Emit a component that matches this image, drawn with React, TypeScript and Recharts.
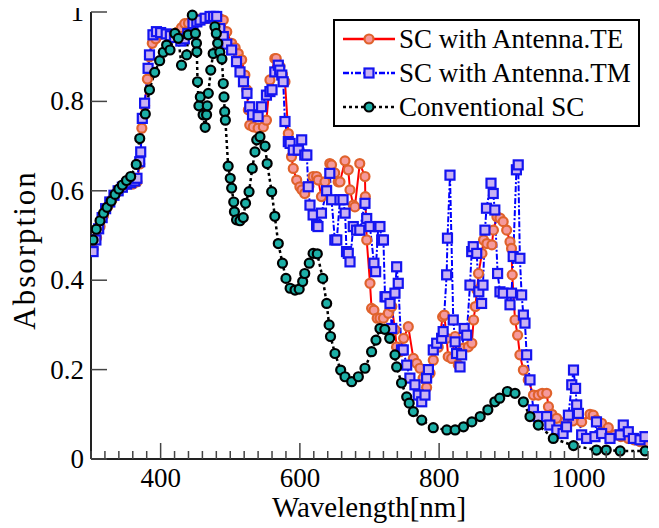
import { LineChart, Line, XAxis, YAxis, Legend } from 'recharts';

const FONT = "'Liberation Serif', Tinos, 'DejaVu Serif', serif";

// wavelength ticks (every 20 nm), labelled every 200 nm
const xTicks = [300, 320, 340, 360, 380, 400, 420, 440, 460, 480, 500, 520, 540, 560, 580, 600, 620, 640, 660, 680, 700,
  720, 740, 760, 780, 800, 820, 840, 860, 880, 900, 920, 940, 960, 980, 1000, 1020, 1040, 1060, 1080, 1100];
const xLabels = [400, 600, 800, 1000];
const yTicks = [0, 0.2, 0.4, 0.6, 0.8, 1];

// SC with Antenna.TE
const teWl = [303, 308, 313, 318, 324, 330, 336, 342, 348, 354, 360, 366, 370, 373, 377, 381, 384, 388, 393, 400, 408, 416,
  424, 430, 434.6, 440, 446, 452, 458, 465, 472, 480, 485, 490, 495, 502, 507, 511.5, 516.4, 521, 523.6, 526, 528, 533, 540,
  547.5, 552, 557, 564, 566, 571.4, 575, 578.6, 583.4, 588, 590.5, 595.4, 600, 603, 607, 613, 619, 624, 626.3, 631, 636, 643,
  645.5, 650, 655, 657.6, 664.8, 669.5, 672, 676.7, 679, 686, 693.5, 694, 696, 700.7, 703, 706.4, 711, 715, 720, 727, 732,
  736.6, 739, 743.8, 749, 755.7, 763, 767.8, 772.5, 777, 782, 787, 791.6, 798.8, 805, 807.5, 810.8, 813, 818, 823, 827.6, 835,
  842, 847, 849.5, 852, 854.4, 856.6, 861.5, 863.8, 868.6, 875.8, 878, 883, 887.4, 892, 897, 901.8, 904, 905, 909, 912.7, 916,
  921, 928, 935.5, 942.4, 948, 954.5, 957, 962, 968.8, 980.7, 992, 1004.7, 1016.7, 1021.4, 1026, 1033.4, 1043, 1052.5, 1061,
  1071.7, 1080, 1088.5, 1098];
const teAbs = [0.47, 0.495, 0.52, 0.545, 0.565, 0.58, 0.595, 0.605, 0.612, 0.615, 0.615, 0.62, 0.66, 0.74, 0.79, 0.85, 0.9,
  0.93, 0.94, 0.95, 0.95, 0.95, 0.955, 0.965, 0.974, 0.975, 0.98, 0.983, 0.985, 0.985, 0.988, 0.988, 0.985, 0.982, 0.956, 0.93,
  0.92, 0.907, 0.893, 0.859, 0.826, 0.781, 0.747, 0.743, 0.74, 0.743, 0.758, 0.848, 0.896, 0.896, 0.878, 0.86, 0.844, 0.728,
  0.676, 0.65, 0.624, 0.609, 0.602, 0.594, 0.61, 0.632, 0.632, 0.624, 0.587, 0.62, 0.661, 0.658, 0.64, 0.62, 0.62, 0.667,
  0.647, 0.602, 0.568, 0.564, 0.661, 0.632, 0.587, 0.49, 0.393, 0.337, 0.333, 0.315, 0.315, 0.315, 0.326, 0.341, 0.289,
  0.251, 0.24, 0.27, 0.296, 0.225, 0.214, 0.203, 0.181, 0.16, 0.192, 0.221, 0.25, 0.318, 0.322, 0.27, 0.229, 0.225, 0.274,
  0.21, 0.248, 0.251, 0.259, 0.311, 0.341, 0.378, 0.415, 0.46, 0.49, 0.482, 0.479, 0.512, 0.542, 0.539, 0.531, 0.512, 0.486,
  0.471, 0.412, 0.311, 0.277, 0.233, 0.199, 0.177, 0.143, 0.143, 0.147, 0.147, 0.117, 0.1, 0.091, 0.083, 0.085, 0.083, 0.1,
  0.098, 0.087, 0.08, 0.07, 0.054, 0.05, 0.046, 0.043, 0.039, 0.031];

// SC with Antenna.TM
const tmWl = [303, 307, 311, 316, 321, 327, 333, 339, 345, 351, 357, 363, 366, 370, 371.4, 373.7, 377, 382, 384, 389, 394, 400,
  408, 414, 420, 429, 434, 439, 446.5, 452, 456.5, 464, 471, 476, 480.5, 485, 490, 495, 502, 509, 514, 519, 524, 528, 532, 540,
  545, 552, 557, 560, 564, 569, 571, 574, 576, 578.6, 583.4, 586, 590.5, 597.7, 602.6, 607, 610, 612, 614.5, 619, 624, 626,
  631, 638.4, 643, 645.5, 650.2, 653, 657.6, 662, 665, 667, 669.5, 672, 676.7, 681.5, 686, 693.5, 696, 700.7, 706.4, 708.8,
  712.6, 715, 717.5, 720, 722.3, 724, 729.4, 732, 736.6, 739, 741.3, 746, 748.5, 753.4, 758, 765.3, 770, 775, 779.7, 782,
  784.6, 791.6, 796.5, 803.6, 805.8, 810.8, 812, 815.6, 820.3, 823, 825, 830, 832.3, 836, 839.6, 844.3, 846.8, 849, 854, 857,
  861, 863, 865.8, 868, 874.5, 877.7, 880, 884, 887.4, 892, 901.8, 904, 906.4, 911, 913.6, 916, 918.5, 921, 923.3, 925.7,
  930.5, 935.5, 942.5, 954.4, 959, 969, 978, 983, 985.7, 990.5, 993, 996, 997.5, 1000, 1004.7, 1011.8, 1023.8, 1026, 1033.4,
  1045.4, 1060, 1064.5, 1071.7, 1079, 1088.5, 1095.6];
const tmAbs = [0.464, 0.49, 0.515, 0.54, 0.56, 0.575, 0.59, 0.6, 0.608, 0.615, 0.618, 0.622, 0.628, 0.665, 0.687, 0.762,
  0.796, 0.874, 0.904, 0.949, 0.956, 0.954, 0.951, 0.947, 0.943, 0.935, 0.94, 0.952, 0.974, 0.978, 0.982, 0.986, 0.99, 0.99,
  0.99, 0.963, 0.945, 0.928, 0.915, 0.889, 0.866, 0.844, 0.818, 0.788, 0.77, 0.766, 0.788, 0.814, 0.822, 0.826, 0.866, 0.881,
  0.87, 0.859, 0.844, 0.755, 0.71, 0.706, 0.691, 0.691, 0.714, 0.68, 0.68, 0.609, 0.568, 0.546, 0.523, 0.52, 0.55, 0.6, 0.639,
  0.58, 0.49, 0.49, 0.58, 0.58, 0.55, 0.464, 0.46, 0.441, 0.52, 0.512, 0.512, 0.572, 0.538, 0.52, 0.438, 0.419, 0.52, 0.52,
  0.49, 0.49, 0.363, 0.363, 0.348, 0.292, 0.371, 0.43, 0.393, 0.244, 0.244, 0.21, 0.181, 0.166, 0.143, 0.128, 0.143, 0.181,
  0.2, 0.244, 0.259, 0.27, 0.285, 0.412, 0.494, 0.635, 0.311, 0.262, 0.236, 0.206, 0.233, 0.292, 0.277, 0.389, 0.464, 0.475,
  0.46, 0.374, 0.348, 0.389, 0.512, 0.561, 0.617, 0.594, 0.557, 0.415, 0.374, 0.371, 0.345, 0.371, 0.453, 0.647, 0.658,
  0.449, 0.367, 0.322, 0.304, 0.233, 0.177, 0.11, 0.095, 0.095, 0.076, 0.065, 0.057, 0.072, 0.098, 0.166, 0.199, 0.158,
  0.121, 0.102, 0.054, 0.046, 0.05, 0.083, 0.057, 0.046, 0.054, 0.076, 0.061, 0.046, 0.043, 0.05];

// Conventional SC
const convWl = [303, 307.6, 313, 318, 323, 329, 334.5, 340, 345, 351, 357, 365, 370, 378, 384, 391.5, 398.6, 403.8, 408.6,
  413.5, 420.6, 425.4, 430, 437.4, 439.7, 445.5, 450, 451.5, 452, 453, 455, 457, 461, 464, 466, 467, 468.5, 472, 475.5, 478,
  480, 482, 485, 488, 490, 491, 492, 493, 497, 500, 502, 505, 506, 509, 514, 518.7, 522, 527, 531.6, 535.5, 538, 542.7, 550,
  553, 559.5, 564, 569, 575, 580, 586, 593, 599, 604, 607, 613.5, 619, 625, 632.8, 638.5, 642, 644, 650.4, 658.6, 664.8,
  674.4, 684, 693.5, 703, 709.3, 715, 722, 729, 736.6, 739, 746, 753.4, 757, 763, 775, 791.6, 811, 823, 835, 847, 859, 870,
  880, 887, 898, 909, 921, 930.5, 942.4, 964, 993, 1026, 1040, 1060, 1096];
const convAbs = [0.49, 0.514, 0.533, 0.55, 0.563, 0.577, 0.592, 0.604, 0.613, 0.623, 0.632, 0.659, 0.717, 0.772, 0.826,
  0.865, 0.891, 0.91, 0.926, 0.915, 0.952, 0.941, 0.881, 0.904, 0.949, 0.993, 0.952, 0.93, 0.911, 0.844, 0.79, 0.81, 0.77,
  0.742, 0.77, 0.79, 0.818, 0.87, 0.907, 0.967, 0.952, 0.93, 0.91, 0.895, 0.84, 0.81, 0.777, 0.758, 0.655, 0.628, 0.606,
  0.575, 0.553, 0.535, 0.533, 0.54, 0.572, 0.598, 0.65, 0.687, 0.714, 0.721, 0.7, 0.661, 0.598, 0.543, 0.482, 0.438, 0.404,
  0.382, 0.378, 0.38, 0.397, 0.415, 0.438, 0.46, 0.459, 0.404, 0.348, 0.3, 0.274, 0.236, 0.199, 0.184, 0.173, 0.184, 0.203,
  0.24, 0.266, 0.292, 0.29, 0.27, 0.233, 0.206, 0.17, 0.139, 0.125, 0.106, 0.087, 0.07, 0.065, 0.065, 0.072, 0.083, 0.095,
  0.11, 0.128, 0.136, 0.151, 0.147, 0.128, 0.095, 0.076, 0.046, 0.03, 0.02, 0.02, 0.018, 0.018];

const zip = (xs: number[], ys: number[]) => xs.map((x, i) => ({ x, y: ys[i] }));

const teData = zip(teWl, teAbs);
const tmData = zip(tmWl, tmAbs);
const convData = zip(convWl, convAbs);

const TE = { line: '#ff0000', edge: '#e0622c', fill: '#f59a9c' };
const TM = { line: '#0000ff', edge: '#1414f0', fill: '#c9b2f2' };
const CONV = { line: '#000000', edge: '#000000', fill: '#1cafa6' };

const TM_DASH = '6 2 2 2';
const CONV_DASH = '3 3';

function CircleDot(props: any, c: typeof TE) {
  const { cx, cy, index } = props;
  if (cx == null || cy == null) return <g key={index} />;
  return <circle key={index} cx={cx} cy={cy} r={4.5} fill={c.fill} stroke={c.edge} strokeWidth={2.2} />;
}

function SquareDot(props: any) {
  const { cx, cy, index } = props;
  if (cx == null || cy == null) return <g key={index} />;
  return <rect key={index} x={cx - 4.5} y={cy - 4.5} width={9} height={9} fill={TM.fill} stroke={TM.edge} strokeWidth={2.2} />;
}

function BottomTick({ x, y, payload }: any) {
  const major = xLabels.includes(payload.value);
  return (
    <g>
      <line x1={x} x2={x} y1={y} y2={y - (major ? 16 : 8)} stroke="#444" strokeWidth={1.5} />
      {major && (
        <text x={x} y={y + 28} textAnchor="middle" fontSize={27} fontFamily={FONT} fill="#000">
          {payload.value}
        </text>
      )}
    </g>
  );
}

function TopTick({ x, y, payload }: any) {
  const major = xLabels.includes(payload.value);
  return <line x1={x} x2={x} y1={y} y2={y + (major ? 16 : 8)} stroke="#444" strokeWidth={1.5} />;
}

function LeftTick({ x, y, payload }: any) {
  const v = payload.value;
  return (
    <g>
      <line x1={x} x2={x + 16} y1={y} y2={y} stroke="#444" strokeWidth={1.5} />
      <text x={x - 7} y={y + 9} textAnchor="end" fontSize={27} fontFamily={FONT} fill="#000">
        {v === 0 || v === 1 ? String(v) : v.toFixed(1)}
      </text>
    </g>
  );
}

function RightTick({ x, y }: any) {
  return <line x1={x} x2={x - 16} y1={y} y2={y} stroke="#444" strokeWidth={1.5} />;
}

const legendRows = [
  { name: 'SC with Antenna.TE', c: TE, dash: undefined as string | undefined, square: false },
  { name: 'SC with Antenna.TM', c: TM, dash: TM_DASH, square: true },
  { name: 'Conventional SC', c: CONV, dash: CONV_DASH, square: false },
];

function LegendBox() {
  return (
    <div
      style={{
        position: 'relative',
        width: 307,
        height: 108,
        boxSizing: 'border-box',
        border: '2px solid #000',
        background: '#fff',
        fontFamily: FONT,
        fontSize: 27,
        color: '#000',
      }}
    >
      {legendRows.map((r, i) => (
        <div key={r.name} style={{ position: 'absolute', left: 8, top: 1 + i * 34, height: 34, display: 'flex', alignItems: 'center' }}>
          <svg width={54} height={20} style={{ display: 'block' }}>
            <line x1={0} x2={52} y1={10} y2={10} stroke={r.c.line} strokeWidth={2.5} strokeDasharray={r.dash} />
            {r.square ? (
              <rect x={21.5} y={5.5} width={9} height={9} fill={r.c.fill} stroke={r.c.edge} strokeWidth={2.2} />
            ) : (
              <circle cx={26} cy={10} r={4.5} fill={r.c.fill} stroke={r.c.edge} strokeWidth={2.2} />
            )}
          </svg>
          <span style={{ marginLeft: 2, whiteSpace: 'nowrap', lineHeight: '34px' }}>{r.name}</span>
        </div>
      ))}
    </div>
  );
}

export default function App() {
  return (
    <div style={{ fontFamily: FONT }}>
      <LineChart width={651} height={520} margin={{ top: 4, right: 11, bottom: 0, left: 0 }}>
        <XAxis
          dataKey="x"
          type="number"
          domain={[300, 1100]}
          ticks={xTicks}
          interval={0}
          allowDataOverflow
          height={69}
          tickSize={0}
          tickMargin={0}
          tickLine={false}
          axisLine={{ stroke: '#222', strokeWidth: 2 }}
          tick={<BottomTick />}
          label={{
            content: () => (
              <text x={361} y={509} textAnchor="middle" fontSize={29} fontFamily={FONT} fill="#000">
                Wavelength[nm]
              </text>
            ),
          }}
        />
        <XAxis
          xAxisId="top"
          orientation="top"
          dataKey="x"
          type="number"
          domain={[300, 1100]}
          ticks={xTicks}
          interval={0}
          height={0}
          tickSize={0}
          tickMargin={0}
          tickLine={false}
          axisLine={{ stroke: '#222', strokeWidth: 2 }}
          tick={<TopTick />}
        />
        <YAxis
          type="number"
          domain={[0, 1]}
          ticks={yTicks}
          interval={0}
          width={83}
          tickSize={0}
          tickMargin={0}
          tickLine={false}
          axisLine={{ stroke: '#222', strokeWidth: 2 }}
          tick={<LeftTick />}
          label={{
            content: () => (
              <text
                x={27}
                y={242}
                transform="rotate(-90 27 242)"
                textAnchor="middle"
                fontSize={31}
                letterSpacing={2}
                fontFamily={FONT}
                fill="#000"
              >
                Absorption
              </text>
            ),
          }}
        />
        <YAxis
          yAxisId="right"
          orientation="right"
          type="number"
          domain={[0, 1]}
          ticks={yTicks}
          interval={0}
          width={0}
          tickSize={0}
          tickMargin={0}
          tickLine={false}
          axisLine={{ stroke: '#222', strokeWidth: 2 }}
          tick={<RightTick />}
        />
        <Legend
          layout="vertical"
          align="center"
          verticalAlign="middle"
          content={() => <LegendBox />}
          wrapperStyle={{ position: 'absolute', left: 325, top: 11, width: 307, height: 108 }}
        />
        <Line
          data={teData}
          dataKey="y"
          name="SC with Antenna.TE"
          stroke={TE.line}
          strokeWidth={2}
          dot={(p: any) => CircleDot(p, TE)}
          activeDot={false}
          isAnimationActive={false}
        />
        <Line
          data={tmData}
          dataKey="y"
          name="SC with Antenna.TM"
          stroke={TM.line}
          strokeWidth={2}
          strokeDasharray={TM_DASH}
          dot={SquareDot}
          activeDot={false}
          isAnimationActive={false}
        />
        <Line
          data={convData}
          dataKey="y"
          name="Conventional SC"
          stroke={CONV.line}
          strokeWidth={2.5}
          strokeDasharray={CONV_DASH}
          dot={(p: any) => CircleDot(p, CONV)}
          activeDot={false}
          isAnimationActive={false}
        />
      </LineChart>
    </div>
  );
}
